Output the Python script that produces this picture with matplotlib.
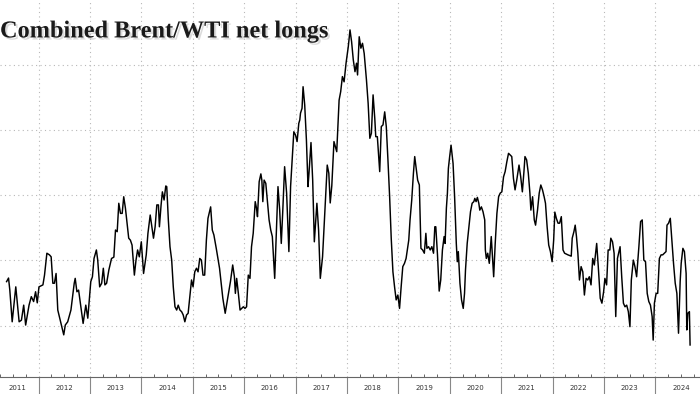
import numpy as np
import matplotlib
matplotlib.use('Agg')
import matplotlib.pyplot as plt
import matplotlib.transforms as mtransforms
import matplotlib.patheffects as pe

# combined Brent + WTI managed money net longs (thousand contracts)
dates = [2011.378, 2011.416, 2011.441, 2011.487, 2011.557, 2011.622, 2011.667, 2011.711, 2011.749, 2011.815,
         2011.859, 2011.904, 2011.942, 2011.975, 2012.008, 2012.085, 2012.116, 2012.162, 2012.212, 2012.245,
         2012.278, 2012.308, 2012.341, 2012.374, 2012.437, 2012.490, 2012.520, 2012.567, 2012.630, 2012.663,
         2012.694, 2012.713, 2012.746, 2012.779, 2012.823, 2012.867, 2012.919, 2012.958, 2013.016, 2013.048,
         2013.079, 2013.125, 2013.151, 2013.189, 2013.228, 2013.260, 2013.291, 2013.324, 2013.368, 2013.420,
         2013.465, 2013.497, 2013.530, 2013.561, 2013.594, 2013.627, 2013.657, 2013.690, 2013.723, 2013.754,
         2013.787, 2013.819, 2013.864, 2013.896, 2013.927, 2013.960, 2013.999, 2014.043, 2014.095, 2014.128,
         2014.172, 2014.205, 2014.236, 2014.268, 2014.301, 2014.332, 2014.351, 2014.384, 2014.409, 2014.442,
         2014.475, 2014.494, 2014.525, 2014.557, 2014.590, 2014.621, 2014.654, 2014.687, 2014.717, 2014.750,
         2014.783, 2014.814, 2014.846, 2014.879, 2014.910, 2014.943, 2014.976, 2015.006, 2015.039, 2015.072,
         2015.103, 2015.136, 2015.168, 2015.199, 2015.232, 2015.265, 2015.296, 2015.348, 2015.380, 2015.411,
         2015.457, 2015.521, 2015.554, 2015.585, 2015.631, 2015.669, 2015.694, 2015.733, 2015.777, 2015.810,
         2015.829, 2015.854, 2015.887, 2015.920, 2015.951, 2015.984, 2016.016, 2016.047, 2016.080, 2016.113,
         2016.143, 2016.176, 2016.215, 2016.240, 2016.259, 2016.292, 2016.325, 2016.344, 2016.363, 2016.388,
         2016.421, 2016.452, 2016.485, 2016.517, 2016.548, 2016.594, 2016.625, 2016.658, 2016.691, 2016.722,
         2016.749, 2016.787, 2016.826, 2016.870, 2016.903, 2016.947, 2016.966, 2016.999, 2017.030, 2017.063,
         2017.082, 2017.096, 2017.126, 2017.146, 2017.178, 2017.211, 2017.242, 2017.261, 2017.300, 2017.333,
         2017.365, 2017.415, 2017.448, 2017.481, 2017.525, 2017.577, 2017.616, 2017.647, 2017.674, 2017.705,
         2017.747, 2017.801, 2017.847, 2017.878, 2017.911, 2017.944, 2017.982, 2018.026, 2018.059, 2018.090,
         2018.123, 2018.156, 2018.186, 2018.206, 2018.238, 2018.271, 2018.302, 2018.335, 2018.379, 2018.412,
         2018.445, 2018.475, 2018.508, 2018.541, 2018.560, 2018.591, 2018.637, 2018.668, 2018.701, 2018.734,
         2018.765, 2018.797, 2018.830, 2018.861, 2018.894, 2018.926, 2018.957, 2018.990, 2019.023, 2019.054,
         2019.086, 2019.119, 2019.150, 2019.183, 2019.202, 2019.227, 2019.260, 2019.293, 2019.318, 2019.343,
         2019.375, 2019.408, 2019.439, 2019.472, 2019.505, 2019.535, 2019.555, 2019.587, 2019.620, 2019.651,
         2019.684, 2019.709, 2019.728, 2019.761, 2019.794, 2019.824, 2019.857, 2019.890, 2019.909, 2019.934,
         2019.954, 2019.973, 2019.998, 2020.025, 2020.064, 2020.094, 2020.127, 2020.146, 2020.166, 2020.198,
         2020.229, 2020.262, 2020.287, 2020.306, 2020.339, 2020.372, 2020.403, 2020.435, 2020.468, 2020.487,
         2020.512, 2020.537, 2020.565, 2020.584, 2020.615, 2020.647, 2020.680, 2020.692, 2020.711, 2020.738,
         2020.769, 2020.807, 2020.854, 2020.884, 2020.917, 2020.950, 2020.981, 2021.013, 2021.046, 2021.077,
         2021.110, 2021.143, 2021.174, 2021.206, 2021.239, 2021.270, 2021.303, 2021.347, 2021.380, 2021.412,
         2021.443, 2021.463, 2021.495, 2021.528, 2021.559, 2021.578, 2021.611, 2021.644, 2021.669, 2021.707,
         2021.740, 2021.771, 2021.804, 2021.836, 2021.862, 2021.894, 2021.925, 2021.958, 2021.991, 2022.021,
         2022.044, 2022.073, 2022.106, 2022.137, 2022.170, 2022.203, 2022.234, 2022.299, 2022.363, 2022.382,
         2022.415, 2022.440, 2022.465, 2022.492, 2022.523, 2022.555, 2022.588, 2022.619, 2022.652, 2022.684,
         2022.715, 2022.748, 2022.781, 2022.812, 2022.858, 2022.889, 2022.927, 2022.960, 2022.993, 2023.018,
         2023.051, 2023.081, 2023.114, 2023.133, 2023.166, 2023.197, 2023.229, 2023.262, 2023.313, 2023.345,
         2023.378, 2023.409, 2023.442, 2023.474, 2023.505, 2023.532, 2023.571, 2023.602, 2023.635, 2023.679,
         2023.712, 2023.744, 2023.775, 2023.808, 2023.841, 2023.872, 2023.904, 2023.937, 2023.957, 2023.981,
         2024.014, 2024.045, 2024.078, 2024.111, 2024.142, 2024.174, 2024.207, 2024.226, 2024.257, 2024.290,
         2024.323, 2024.353, 2024.386, 2024.418, 2024.450, 2024.482, 2024.502, 2024.535, 2024.565, 2024.598,
         2024.611, 2024.631, 2024.662, 2024.675]
netlongs = [335, 346, 309, 212, 319, 212, 217, 263, 202, 263,
            289, 274, 304, 270, 319, 325, 355, 422, 417, 411,
            330, 330, 360, 248, 207, 172, 202, 212, 248, 289,
            330, 345, 304, 309, 258, 207, 263, 223, 335, 350,
            406, 432, 401, 319, 330, 376, 325, 330, 371, 406,
            410, 493, 488, 575, 544, 544, 595, 560, 514, 468,
            462, 447, 355, 401, 432, 411, 457, 360, 417, 483,
            539, 503, 468, 503, 570, 570, 503, 570, 610, 585,
            628, 626, 524, 442, 401, 319, 258, 248, 263, 248,
            243, 233, 212, 233, 238, 289, 340, 319, 365, 376,
            365, 406, 401, 355, 355, 462, 529, 564, 493, 478,
            437, 376, 330, 284, 238, 274, 299, 335, 386, 350,
            299, 345, 299, 248, 253, 258, 253, 258, 355, 345,
            442, 483, 580, 560, 534, 641, 665, 646, 580, 646,
            636, 580, 524, 493, 473, 345, 483, 626, 554, 452,
            544, 687, 606, 427, 626, 743, 794, 784, 764, 820,
            830, 851, 866, 932, 876, 769, 626, 667, 761, 646,
            457, 575, 493, 345, 411, 570, 692, 667, 576, 629,
            764, 733, 891, 917, 963, 947, 1004, 1055, 1106, 1070,
            1014, 978, 1004, 968, 1085, 1050, 1065, 1034, 953, 881,
            774, 789, 907, 835, 779, 779, 672, 810, 815, 855,
            810, 708, 595, 468, 365, 319, 279, 294, 253, 319,
            381, 391, 406, 442, 462, 524, 585, 667, 718, 687,
            646, 631, 437, 432, 422, 483, 437, 442, 432, 442,
            422, 503, 503, 417, 306, 340, 432, 473, 452, 560,
            606, 682, 718, 753, 697, 595, 452, 396, 427, 330,
            279, 253, 299, 371, 452, 503, 549, 575, 580, 590,
            580, 593, 575, 554, 564, 549, 524, 432, 406, 422,
            391, 473, 350, 452, 544, 595, 606, 610, 656, 672,
            702, 728, 723, 718, 651, 616, 646, 692, 656, 610,
            672, 718, 708, 667, 606, 554, 595, 524, 508, 554,
            606, 631, 616, 595, 575, 503, 447, 427, 396, 462,
            548, 529, 514, 514, 534, 432, 422, 417, 413, 468,
            488, 508, 473, 422, 340, 381, 365, 294, 345, 340,
            350, 325, 406, 386, 452, 381, 284, 269, 304, 345,
            325, 432, 432, 468, 457, 422, 228, 406, 442, 350,
            269, 258, 263, 243, 197, 340, 401, 381, 350, 442,
            519, 524, 401, 396, 299, 274, 263, 228, 156, 269,
            299, 299, 406, 417, 417, 422, 427, 508, 514, 529,
            457, 391, 330, 299, 177, 335, 391, 437, 427, 360,
            187, 238, 243, 141]

years = list(range(2011, 2025))
year_label_pos = [2011.59] + [y + 0.5 for y in years[1:]]
gridvals = [200, 400, 600, 800, 1000]

fig = plt.figure(figsize=(7, 3.94), dpi=100)
ax = fig.add_axes([0, 0.0439, 1, 0.9561])

ax.plot(dates, netlongs, color='black', lw=1.05)

ax.set_xlim(2011.378, 2024.868)
ax.set_ylim(43.8, 1197.6)

# horizontal dotted gridlines, no y labels
ax.set_yticks(gridvals)
ax.tick_params(axis='y', left=False, labelleft=False)
ax.grid(axis='y', linestyle=(0, (1, 3)), color='#b8b8b8', lw=0.8)

# year boundaries: dotted grid + separator ticks below the axis
ax.set_xticks(years[1:])
ax.set_xticklabels([])
ax.tick_params(axis='x', which='major', direction='out', length=12.5, color='#888888', width=0.8)
ax.set_xticks([y + q for y in years for q in (0.25, 0.5, 0.75)], minor=True)
ax.tick_params(axis='x', which='minor', direction='in', length=2.5, color='#666666', width=0.7)
ax.grid(axis='x', which='major', linestyle=(0, (1, 3)), color='#b8b8b8', lw=0.8)

for s in ['top', 'left', 'right']:
    ax.spines[s].set_visible(False)
ax.spines['bottom'].set_color('#666666')
ax.spines['bottom'].set_linewidth(0.8)

trans = mtransforms.blended_transform_factory(ax.transData, ax.transAxes)
for yr, pos in zip(years, year_label_pos):
    ax.text(pos, -0.030, str(yr), transform=trans, ha='center', va='center',
            fontsize=5, color='#333333')

fig.text(0.0, 0.905, 'Combined Brent/WTI net longs', fontsize=17.5, fontweight='bold',
         family='Liberation Serif', color='#1a1a1a', ha='left', va='baseline',
         path_effects=[pe.withSimplePatchShadow(offset=(1.5, -1.5), shadow_rgbFace='#999999', alpha=0.35)])

fig.savefig('out.png', dpi=100)
